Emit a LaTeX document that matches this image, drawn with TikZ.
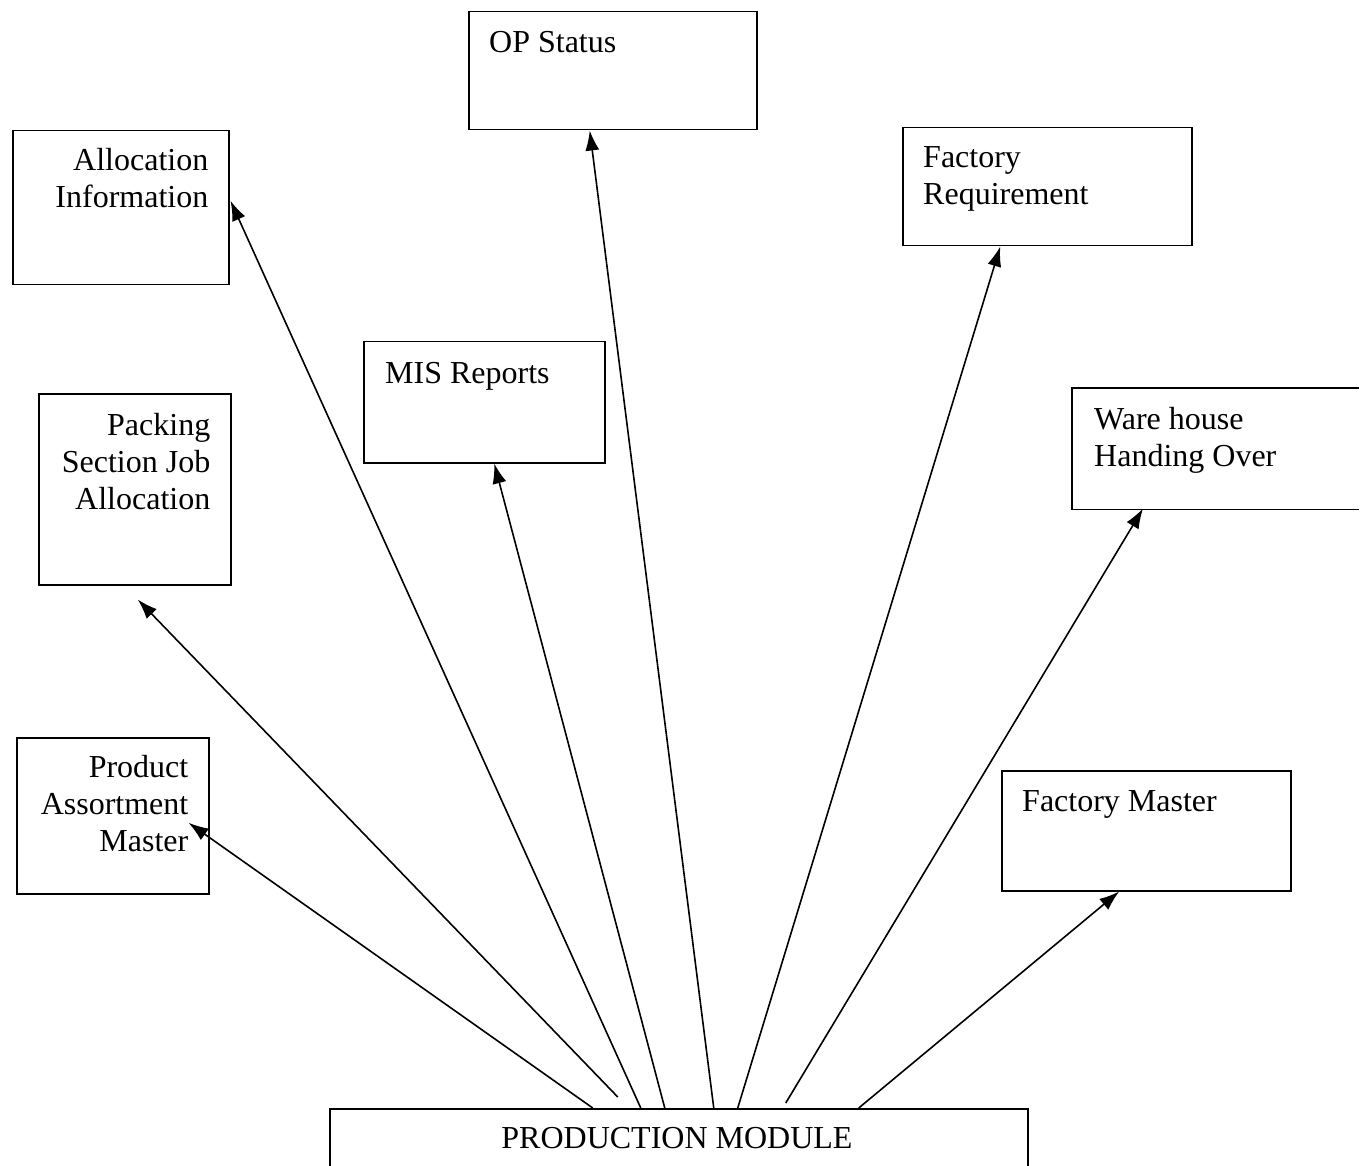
\documentclass[tikz,border=0pt]{standalone}
\usepackage{fontspec}
\setmainfont{Liberation Serif}
\usetikzlibrary{arrows.meta,positioning}

\begin{document}
\begin{tikzpicture}[x=1pt,y=-1pt,
  box/.style={draw, line width=1.5pt, inner sep=0pt, anchor=north west},
  txt/.style={font=\fontsize{32}{37}\selectfont, inner sep=0pt},
  arr/.style={-{Latex[length=20pt,width=14pt]}, line width=1.6pt}]
  \useasboundingbox (0,0) rectangle (1363,1166);
  % boxes
  \node[box, minimum width=216pt, minimum height=154pt] (alloc) at (12,130) {};
  \node[box, minimum width=288pt, minimum height=118pt] (opstat) at (468,11) {};
  \node[box, minimum width=289pt, minimum height=118pt] (factreq) at (902,127) {};
  \node[box, minimum width=241pt, minimum height=121pt] (mis) at (363,341) {};
  \node[box, minimum width=192pt, minimum height=191pt] (pack) at (38,393) {};
  \node[box, draw=none, minimum width=285pt, minimum height=120pt] (ware) at (1072,388) {};
  \draw[line width=1.5pt] (ware.north east) -- (ware.north west) -- (ware.south west) -- (ware.south east);
  \node[box, minimum width=192pt, minimum height=156pt] (prodass) at (16,737) {};
  \node[box, minimum width=289pt, minimum height=120pt] (factmas) at (1001,770) {};
  \node[box, minimum width=698pt, minimum height=100pt] (prod) at (329,1108) {};
  % texts
  \node[txt, anchor=north east, align=right] (alloc-t) at ([xshift=-21pt,yshift=-18pt]alloc.north east) {Allocation\\Information};
  \node[txt, anchor=north west, align=left] (opstat-t) at ([xshift=21pt,yshift=-20pt]opstat.north west) {OP Status};
  \node[txt, anchor=north west, align=left] (factreq-t) at ([xshift=21pt,yshift=-19pt]factreq.north west) {Factory\\Requirement};
  \node[txt, anchor=north west, align=left] (mis-t) at ([xshift=22pt,yshift=-21pt]mis.north west) {MIS Reports};
  \node[txt, anchor=north east, align=right] (pack-t) at ([xshift=-21pt,yshift=-20pt]pack.north east) {Packing\\Section Job\\Allocation};
  \node[txt, anchor=north west, align=left] (ware-t) at ([xshift=22pt,yshift=-19pt]ware.north west) {Ware house\\Handing Over};
  \node[txt, anchor=north east, align=right] (prodass-t) at ([xshift=-21pt,yshift=-18pt]prodass.north east) {Product\\Assortment\\Master};
  \node[txt, anchor=north west, align=left] (factmas-t) at ([xshift=21pt,yshift=-20pt]factmas.north west) {Factory Master};
  \node[txt] (prod-t) at (677,1138) {PRODUCTION MODULE};
  % arrows
  \draw[arr] ([xshift=-86pt]prod.north) -- ([xshift=-21pt,yshift=-7pt]prodass.east);
  \draw[arr] ([xshift=-61pt,yshift=11pt]prod.north) -- ([xshift=3pt,yshift=-14pt]pack.south);
  \draw[arr] ([xshift=-38pt]prod.north) -- ([xshift=1pt,yshift=7pt]alloc.east);
  \draw[arr] ([xshift=-14pt]prod.north) -- ([xshift=10pt]mis.south);
  \draw[arr] ([xshift=35pt]prod.north) -- ([xshift=-23pt]opstat.south);
  \draw[arr] ([xshift=59pt]prod.north) -- ([xshift=-47pt]factreq.south);
  \draw[arr] ([xshift=107pt,yshift=5pt]prod.north) -- ([xshift=71pt,yshift=1pt]ware.south west);
  \draw[arr] ([xshift=180pt]prod.north) -- ([xshift=-27pt]factmas.south);
\end{tikzpicture}
\end{document}
